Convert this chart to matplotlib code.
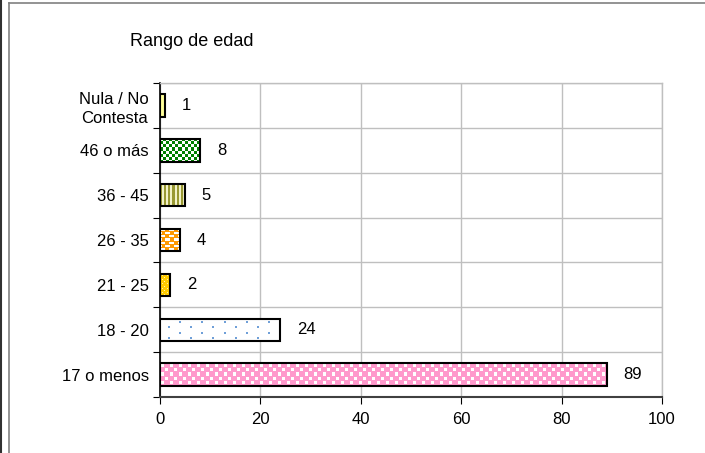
"""
Rango de edad -- horizontal bar chart with Excel-style fill patterns.
"""
import numpy as np
import matplotlib; matplotlib.use('Agg')
import matplotlib.pyplot as plt
from matplotlib.colors import to_rgb
from matplotlib.lines import Line2D

plt.rcParams['font.family'] = ['Liberation Sans', 'DejaVu Sans']

TITLE      = 'Rango de edad'
CATEGORIES = ['17 o menos', '18 - 20', '21 - 25', '26 - 35', '36 - 45', '46 o más', 'Nula / No\nContesta']
VALUES     = [89, 24, 2, 4, 5, 8, 1]
XTICKS     = [0, 20, 40, 60, 80, 100]

# ── fill patterns: (tile of 0/1, base colour, pattern colour) ────────────────
def tile(rows):
    return np.array([[1 if ch == 'X' else 0 for ch in r] for r in rows])

PATTERNS = [
    (tile(['.........', '.XXX.....', '.XXX.....', '.XXX.....',
           '.........', '.....XXX.', '.....XXX.', '.....XXX.']), '#FF99CC', '#FFFFFF'),
    (tile(['......................', '......................', '......................',
           '...................XX.', '...................XX.',
           '......................', '......................', '......................',
           '........XX............', '........XX............']), '#FFFFFF', '#6F9FD8'),
    (tile(['X...', '....', '..X.', '....']), '#FFCC00', '#FFF2B0'),
    (tile(['........', '.XXXX...', '.XXXX...', '........', 'XX...XXX', 'XX...XXX']), '#FF9900', '#FFFFFF'),
    (tile(['..XX']), '#999933', '#F2F2C8'),
    (tile(['XXX...', 'XXX...', 'XXX...', '...XXX', '...XXX', '...XXX']), '#008000', '#FFFFFF'),
    (tile(['.']), '#FFFF99', '#FFFF99'),
]

BAR_H = 0.5
W, H, DPI = 705, 453, 100

fig = plt.figure(figsize=(W / DPI, H / DPI), dpi=DPI)
ax = fig.add_axes([160 / W, 1 - 397 / H, (662 - 160) / W, (397 - 83) / H])

ypos = np.arange(len(CATEGORIES))
ax.set_xlim(0, 100)
ax.set_ylim(-0.5, len(CATEGORIES) - 0.5)

# pixel scale of the data
px_per_x = (ax.transData.transform((1, 0))[0] - ax.transData.transform((0, 0))[0])
px_per_y = (ax.transData.transform((0, 1))[1] - ax.transData.transform((0, 0))[1])

for y, v, (t, base, fg) in zip(ypos, VALUES, PATTERNS):
    bar = ax.barh(y, v, height=BAR_H, facecolor='none', edgecolor='black',
                  linewidth=1.5, zorder=4)[0]
    w_px = max(int(round(v * px_per_x)), 1)
    h_px = max(int(round(BAR_H * px_per_y)), 1)
    reps = (h_px // t.shape[0] + 1, w_px // t.shape[1] + 1)
    mask = np.tile(t, reps)[:h_px, :w_px]
    img = np.where(mask[..., None] == 1, to_rgb(fg), to_rgb(base))
    im = ax.imshow(img, extent=(0, v, y - BAR_H / 2, y + BAR_H / 2),
                   aspect='auto', interpolation='nearest', zorder=3, origin='upper')
    im.set_clip_path(bar)
    ax.annotate(str(v), xy=(v, y), xytext=(12, 0), textcoords='offset points',
                va='center', ha='left', fontsize=12)

ax.set_xlim(0, 100)
ax.set_ylim(-0.5, len(CATEGORIES) - 0.5)

# x axis
ax.set_xticks(XTICKS)
ax.tick_params(axis='x', labelsize=12, length=5, color='black', pad=6)
ax.xaxis.grid(True, color='#BFBFBF', lw=1)

# y axis: ticks + gridlines between categories, labels at centres
ax.set_yticks(np.arange(-0.5, len(CATEGORIES)), minor=False)
ax.set_yticklabels([])
ax.set_yticks(ypos, minor=True)
ax.set_yticklabels(CATEGORIES, minor=True, fontsize=12, linespacing=1.3)
for lab in ax.get_yticklabels(minor=True):
    lab.set_multialignment('center')
ax.tick_params(axis='y', which='major', length=5, color='black')
ax.tick_params(axis='y', which='minor', length=0, pad=8)
ax.yaxis.grid(True, which='major', color='#BFBFBF', lw=1)
ax.set_axisbelow(True)

ax.spines['left'].set_color('black')
ax.spines['left'].set_linewidth(1.2)
ax.spines['bottom'].set_color('#404040')
ax.spines['bottom'].set_linewidth(1.5)
for s in ('top', 'right'):
    ax.spines[s].set_color('#BFBFBF')
    ax.spines[s].set_linewidth(1)

fig.text(130 / W, 1 - 41 / H, TITLE, ha='left', va='center', fontsize=13)

# outer chart-area border (partially visible)
fig.add_artist(Line2D([8.5 / W, 8.5 / W], [0, 1 - 3 / H], color='#808080', lw=1.2))
fig.add_artist(Line2D([8.5 / W, 1], [1 - 3 / H, 1 - 3 / H], color='#808080', lw=1.2))
fig.add_artist(Line2D([1 / W, 1 / W], [0, 1], color='#303030', lw=1.5))

fig.savefig('out.png', dpi=DPI)
